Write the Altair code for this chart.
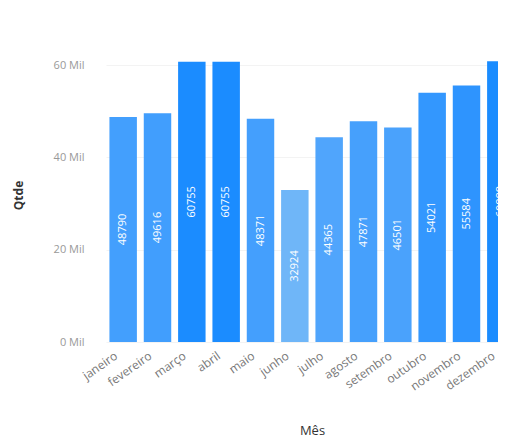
import altair as alt
import pandas as pd

meses = ["janeiro", "fevereiro", "março", "abril", "maio", "junho", "julho",
         "agosto", "setembro", "outubro", "novembro", "dezembro"]
qtde = [48790, 49616, 60755, 60755, 48371, 32924, 44365, 47871, 46501, 54021, 55584, 60888]
y_ticks = [0, 20000, 40000, 60000]

df = pd.DataFrame({"Mês": meses, "Qtde": qtde})
df["meio"] = df["Qtde"] / 2

FONT = "Open Sans"

xscale = alt.Scale(range=[0, 412], paddingInner=0.2, paddingOuter=0.1)

x = alt.X("Mês:N", sort=meses, scale=xscale,
          axis=alt.Axis(labelAngle=-35, labelColor="#777777", labelFontSize=12,
                        labelFont=FONT, ticks=False, domain=False, labelPadding=8,
                        labelOffset=-10,
                        title="Mês", titleFont=FONT, titleFontSize=13,
                        titleFontWeight="normal", titleColor="#333333",
                        titleX=206, titleY=88, titleBaseline="middle"))

bars = alt.Chart(df).mark_bar().encode(
    x=x,
    y=alt.Y("Qtde:Q", scale=alt.Scale(domain=[0, 62000], nice=False),
            axis=alt.Axis(values=y_ticks, labelExpr="datum.value/1000 + ' Mil'",
                          labelColor="#999999", labelFontSize=11, labelFont=FONT,
                          ticks=False, domain=False, labelPadding=22,
                          gridColor="#f3f3f3",
                          title="Qtde", titleFont=FONT, titleFontSize=12,
                          titleFontWeight="bold", titleColor="#333333",
                          titleX=-88, titleY=139, titleAngle=-90,
                          titleAlign="center", titleBaseline="middle")),
    color=alt.Color("Qtde:Q", legend=None,
                    scale=alt.Scale(domain=[32924, 60888], range=["#6fb6f8", "#1a8cff"])),
)

labels = alt.Chart(df).mark_text(angle=270, color="white", fontSize=11, font=FONT,
                                 align="center", baseline="middle").encode(
    x=alt.X("Mês:N", sort=meses, scale=xscale),
    y=alt.Y("meio:Q"),
    text=alt.Text("Qtde:Q", format="d"),
)

chart = (bars + labels).properties(
    width=392, height=286,
    padding={"left": 98, "top": 48, "right": 0, "bottom": 98},
    autosize=alt.AutoSizeParams(type="none"),
).configure_view(stroke=None).configure_axis(labelFont=FONT)

chart.save("out.html", embed_options={"renderer": "svg", "actions": False})
